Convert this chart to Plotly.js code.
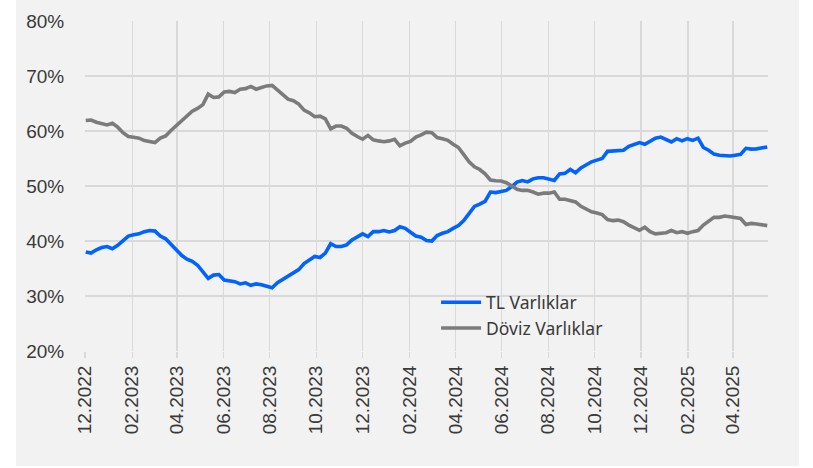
<!DOCTYPE html>
<html>
<head>
<meta charset="utf-8">
<script src="https://cdn.plot.ly/plotly-3.0.1.min.js"></script>
<style>
html,body{margin:0;padding:0;background:#fff;}
#chart{width:813px;height:468px;}
</style>
</head>
<body>
<div id="chart"></div>
<script>
const dates = [
"2022-12-02","2022-12-09","2022-12-16","2022-12-23","2022-12-30",
"2023-01-06","2023-01-13","2023-01-20","2023-01-27","2023-02-03","2023-02-10","2023-02-17","2023-02-24",
"2023-03-03","2023-03-10","2023-03-17","2023-03-24","2023-03-31","2023-04-07","2023-04-14","2023-04-21","2023-04-28",
"2023-05-05","2023-05-12","2023-05-19","2023-05-26","2023-06-02","2023-06-09","2023-06-16","2023-06-23","2023-06-30",
"2023-07-07","2023-07-14","2023-07-21","2023-07-28","2023-08-04","2023-08-11","2023-08-18","2023-08-25",
"2023-09-01","2023-09-08","2023-09-15","2023-09-22","2023-09-29","2023-10-06","2023-10-13","2023-10-20","2023-10-27",
"2023-11-03","2023-11-10","2023-11-17","2023-11-24","2023-12-01","2023-12-08","2023-12-15","2023-12-22","2023-12-29",
"2024-01-05","2024-01-12","2024-01-19","2024-01-26","2024-02-02","2024-02-09","2024-02-16","2024-02-23",
"2024-03-01","2024-03-08","2024-03-15","2024-03-22","2024-03-29","2024-04-05","2024-04-12","2024-04-19","2024-04-26",
"2024-05-03","2024-05-10","2024-05-17","2024-05-24","2024-05-31","2024-06-07","2024-06-14","2024-06-21","2024-06-28",
"2024-07-05","2024-07-12","2024-07-19","2024-07-26","2024-08-02","2024-08-09","2024-08-16","2024-08-23","2024-08-30",
"2024-09-06","2024-09-13","2024-09-20","2024-09-27","2024-10-04","2024-10-11","2024-10-18","2024-10-25",
"2024-11-01","2024-11-08","2024-11-15","2024-11-22","2024-11-29","2024-12-06","2024-12-13","2024-12-20","2024-12-27",
"2025-01-03","2025-01-10","2025-01-17","2025-01-24","2025-01-31","2025-02-07","2025-02-14","2025-02-21","2025-02-28",
"2025-03-07","2025-03-14","2025-03-21","2025-03-28","2025-04-04","2025-04-11","2025-04-18","2025-04-25",
"2025-05-02","2025-05-09","2025-05-16"
];

const tlVarliklar = [
38.0,37.8,38.4,38.8,39.0,38.6,39.2,40.1,40.9,41.15,41.3,41.7,41.9,41.8,40.9,40.4,39.4,38.5,37.4,36.7,
36.3,35.6,34.4,33.2,33.8,33.9,32.9,32.7,32.6,32.2,32.4,31.95,32.2,32.05,31.8,31.5,32.4,33.0,33.6,34.1,
34.8,35.9,36.6,37.2,37.0,37.8,39.5,39.0,39.0,39.3,40.2,40.8,41.3,40.8,41.7,41.7,41.9,41.65,41.9,42.6,
42.3,41.6,40.9,40.7,40.1,40.0,41.0,41.4,41.7,42.3,42.8,43.7,45.1,46.3,46.7,47.2,48.9,48.8,49.0,49.2,
49.9,50.7,51.0,50.75,51.3,51.5,51.5,51.3,51.0,52.2,52.3,53.0,52.4,53.3,53.8,54.4,54.7,55.0,56.3,56.4,
56.4,56.5,57.2,57.5,57.9,57.6,58.2,58.7,58.9,58.5,58.0,58.6,58.2,58.6,58.3,58.7,57.0,56.5,55.8,55.6,
55.5,55.45,55.6,55.75,56.85,56.7,56.75,56.95,57.1
];

const dovizVarliklar = [
61.9,62.0,61.6,61.4,61.1,61.4,60.7,59.7,59.0,58.85,58.7,58.25,58.1,57.9,58.7,59.1,60.1,61.0,61.8,62.9,
63.6,64.1,64.8,66.7,66.1,66.2,67.1,67.2,67.0,67.6,67.7,68.1,67.6,67.9,68.2,68.3,67.5,66.6,65.8,65.5,
64.9,63.8,63.3,62.6,62.7,62.2,60.4,60.9,60.9,60.5,59.6,59.0,58.5,59.2,58.4,58.2,58.05,58.2,58.5,57.3,
57.8,58.1,58.9,59.3,59.8,59.7,58.8,58.6,58.3,57.6,57.0,55.7,54.4,53.5,53.0,52.2,51.1,50.95,50.9,50.6,
50.0,49.4,49.2,49.2,48.9,48.5,48.7,48.7,48.9,47.6,47.6,47.3,47.1,46.3,45.8,45.3,45.1,44.8,43.9,43.7,
43.8,43.5,42.9,42.4,41.95,42.5,41.7,41.3,41.4,41.5,41.9,41.5,41.7,41.4,41.7,41.9,42.9,43.7,44.3,44.3,
44.55,44.4,44.3,44.1,43.0,43.2,43.1,43.0,42.8
];

const seriesNames = ["TL Varlıklar", "Döviz Varlıklar"];
const yTickVals = [20,30,40,50,60,70,80];
const yTickText = ["20%","30%","40%","50%","60%","70%","80%"];

const tickFont = "Liberation Sans, Arial, sans-serif";
const legendFont = "Noto Sans, Open Sans, sans-serif";
const textColor = "#3a3a3a";

const traces = [
  {x: dates, y: tlVarliklar, name: seriesNames[0], type: "scatter", mode: "lines",
   line: {color: "#0062ff", width: 3.6}},
  {x: dates, y: dovizVarliklar, name: seriesNames[1], type: "scatter", mode: "lines",
   line: {color: "#7b7b7b", width: 3.6}}
];

const layout = {
  width: 813, height: 468,
  margin: {l: 85, r: 45, t: 21, b: 117},
  paper_bgcolor: "#ffffff",
  plot_bgcolor: "rgba(0,0,0,0)",
  font: {family: tickFont, size: 19, color: textColor},
  showlegend: true,
  legend: {
    x: 0.514, y: 0.108, xanchor: "left", yanchor: "middle",
    bgcolor: "rgba(0,0,0,0)", font: {family: legendFont, size: 17.5, color: textColor},
    tracegroupgap: 0, itemwidth: 40
  },
  xaxis: {
    type: "date",
    range: ["2022-12-01", "2025-05-17"],
    tick0: "2022-12-01", dtick: "M2",
    tickformat: "%m.%Y",
    tickangle: -90,
    showgrid: true, gridcolor: "#d9d9d9", gridwidth: 1.3,
    ticks: "outside", ticklen: 6, tickcolor: "#d9d9d9", tickwidth: 1.3,
    showline: false, zeroline: false,
    tickfont: {family: tickFont, size: 19, color: textColor}
  },
  yaxis: {
    range: [20, 80],
    tickvals: yTickVals, ticktext: yTickText,
    showgrid: true, gridcolor: "#d9d9d9", gridwidth: 1.3,
    ticks: "outside", ticklen: 16, tickcolor: "rgba(0,0,0,0)",
    showline: false, zeroline: false,
    tickfont: {family: tickFont, size: 19, color: textColor}
  },
  shapes: [
    {type: "rect", xref: "paper", yref: "paper", layer: "below",
     x0: -0.101, x1: 1.0454, y0: -0.3485, y1: 1.07,
     fillcolor: "#f2f2f2", line: {width: 0}}
  ]
};

Plotly.newPlot("chart", traces, layout, {displayModeBar: false, staticPlot: true});
</script>
</body>
</html>
